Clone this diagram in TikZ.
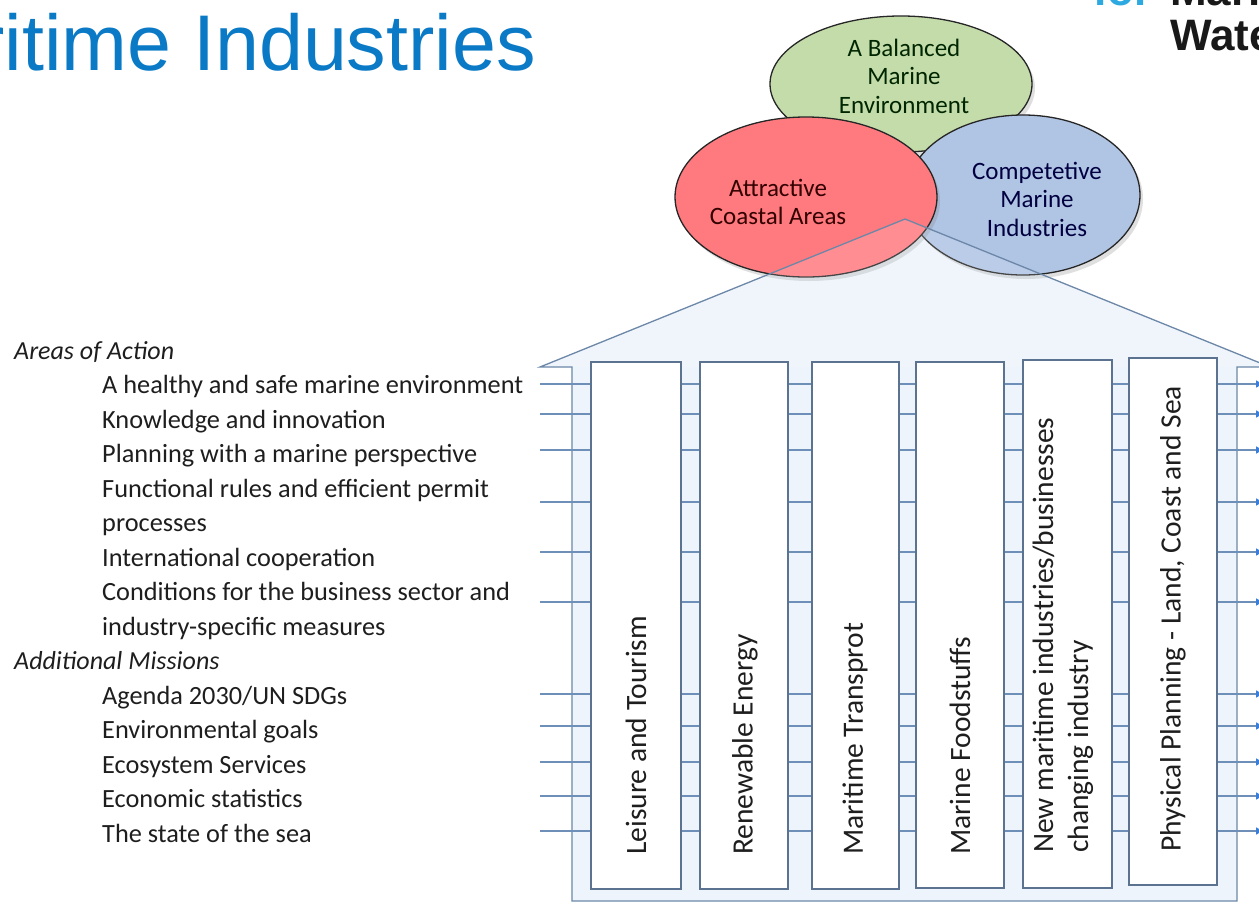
\documentclass[tikz,border=0pt]{standalone}
\usepackage{fontspec}
\setmainfont{Carlito}
\newfontfamily\arialfont{Liberation Sans}
\usetikzlibrary{shapes.geometric,shadows,arrows.meta}
\definecolor{titleblue}{HTML}{0B7AC6}
\definecolor{logoblue}{HTML}{2BA9E0}
\definecolor{greenfill}{HTML}{C4DCAA}
\definecolor{redfill}{HTML}{FF7A7F}
\definecolor{bluefill}{HTML}{B0C4E4}
\definecolor{housefill}{HTML}{EDF4FB}
\definecolor{houseline}{HTML}{6C87A8}
\definecolor{colline}{HTML}{5B7391}
\definecolor{linkcol}{HTML}{6E8FB8}
\definecolor{tipcol}{HTML}{3A7FD5}
\definecolor{txt}{HTML}{1E1E1E}
\begin{document}
\begin{tikzpicture}[x=1pt,y=-1pt,
  venn/.style={ellipse,draw=black!85,line width=1.3pt,inner sep=0pt,
    drop shadow={opacity=0.25,shadow xshift=3pt,shadow yshift=-4pt}},
  venntext/.style={align=center,font=\fontsize{25}{28.5}\selectfont,inner sep=0pt},
  item/.style={anchor=base west,inner sep=0pt,text=txt,font=\fontsize{26.3}{30}\selectfont},
  head/.style={item,font=\fontsize{26}{30}\selectfont\itshape},
  colbox/.style={draw=colline,fill=white,line width=1.3pt,inner sep=0pt},
  coltext/.style={rotate=90,anchor=west,inner xsep=0pt,inner ysep=0pt,align=left,
    text=txt,font=\fontsize{29.5}{35}\selectfont},
  link/.style={draw=linkcol,line width=1.2pt,-{Triangle[length=7pt,width=7pt,color=tipcol]}},
]
\path[use as bounding box] (0,0) rectangle (1259,908);
\clip (0,0) rectangle (1259,908);
\fill[white] (0,0) rectangle (1259,908);

% title and logo
\node[anchor=base east,inner sep=0pt,text=titleblue,font=\arialfont\fontsize{79}{90}\selectfont] (title) at (536,70) {Maritime Industries};
\node[anchor=base east,inner sep=0pt,text=logoblue,font=\arialfont\bfseries\fontsize{44}{50}\selectfont] (logofor) at (1152,5) {for};
\node[anchor=base west,inner sep=0pt,text=black!90,font=\arialfont\bfseries\fontsize{44}{50}\selectfont] (logo1) at (1170,5) {Marine and};
\node[anchor=base west,inner sep=0pt,text=black!90,font=\arialfont\bfseries\fontsize{44}{50}\selectfont] (logo2) at (1170,50) {Water Management};

% house body (behind the ellipses)
\fill[housefill] (540,367) -- (905,219) -- (1270,367) -- (1237,367) -- (1237,901) -- (572,901) -- (572,367) -- cycle;

% venn ellipses
\node[venn,fill=greenfill,minimum width=262pt,minimum height=136pt] (green) at (901,84) {};
\node[venn,fill=bluefill,minimum width=234pt,minimum height=160pt] (blue) at (1023,195) {};
\node[venn,fill=redfill,minimum width=262pt,minimum height=160pt] (red) at (806,197) {};
\node[venntext,text=black!85!green] (greent) at (904,76) {A Balanced\\Marine\\Environment};
\node[venntext,text=black!80!red] (redt) at (778,202) {Attractive\\Coastal Areas};
\node[venntext,text=black!75!blue] (bluet) at (1037,199) {Competetive\\Marine\\Industries};

% roof veil and house outline
\fill[white,fill opacity=0.15] (540,367) -- (905,219) -- (1270,367) -- cycle;
\draw[houseline,line width=1.3pt] (540,367) -- (905,219) -- (1270,367) -- (1237,367) -- (1237,901) -- (572,901) -- (572,367) -- cycle;

% connectors
\foreach \y [count=\i] in {384,414,450,502,552,602,694,726,762,796,831} {
  \coordinate (L\i) at (540,\y);
  \coordinate (R\i) at (1263,\y);
  \draw[link] (L\i) -- (R\i);
}

% columns
\node[colbox,minimum width=90pt,minimum height=527pt] (c1) at (636,625.5) {};
\node[colbox,minimum width=88pt,minimum height=527pt] (c2) at (744,625.5) {};
\node[colbox,minimum width=87pt,minimum height=527pt] (c3) at (855.5,625.5) {};
\node[colbox,minimum width=88pt,minimum height=526pt] (c4) at (960,625) {};
\node[colbox,minimum width=89pt,minimum height=528pt] (c5) at (1067.5,624) {};
\node[colbox,minimum width=88pt,minimum height=527pt] (c6) at (1173,621.5) {};

\node[coltext] (t1) at (636,855) {Leisure and Tourism};
\node[coltext] (t2) at (745,855) {Renewable Energy};
\node[coltext] (t3) at (855,855) {Maritime Transprot};
\node[coltext] (t4) at (960,855) {Marine Foodstuffs};
\node[coltext] (t5) at (1063,853) {New maritime industries/businesses\\changing industry};
\node[coltext] (t6) at (1173,852) {Physical Planning - Land, Coast and Sea};

% left text
\node[head] (h1) at (14,359) {Areas of Action};
\node[item] (a1) at (102,393.5) {A healthy and safe marine environment};
\node[item] (a2) at (102,428) {Knowledge and innovation};
\node[item] (a3) at (102,462.5) {Planning with a marine perspective};
\node[item] (a4) at (102,497) {Functional rules and efficient permit};
\node[item] (a4b) at (102,531.5) {processes};
\node[item] (a5) at (102,566) {International cooperation};
\node[item] (a6) at (102,600.5) {Conditions for the business sector and};
\node[item] (a6b) at (102,635) {industry-specific measures};
\node[head] (h2) at (14,669.5) {Additional Missions};
\node[item] (m1) at (102,704) {Agenda 2030/UN SDGs};
\node[item] (m2) at (102,738.5) {Environmental goals};
\node[item] (m3) at (102,773) {Ecosystem Services};
\node[item] (m4) at (102,807.5) {Economic statistics};
\node[item] (m5) at (102,842) {The state of the sea};
\end{tikzpicture}
\end{document}
